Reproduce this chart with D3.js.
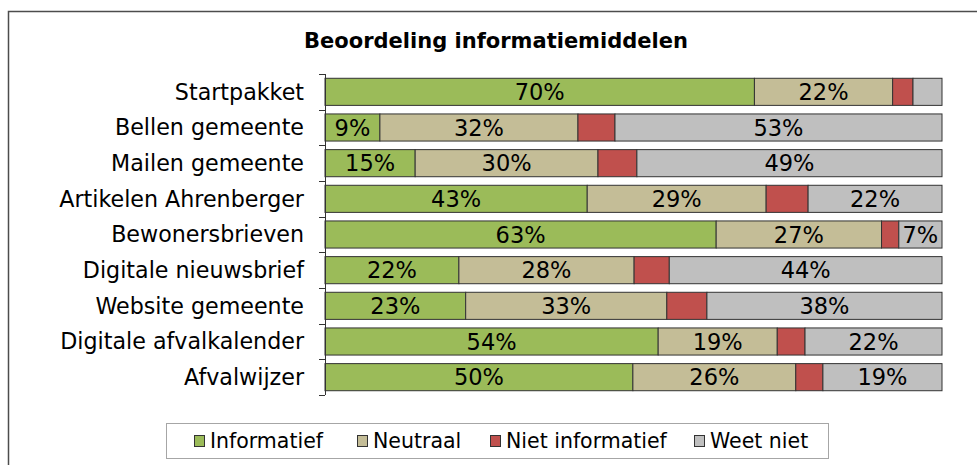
<!DOCTYPE html>
<html>
<head>
<meta charset="utf-8">
<script src="https://cdn.jsdelivr.net/npm/d3@7"></script>
<style>
    body { margin: 0; background: #fff; }
    svg { display: block; font-family: "DejaVu Sans", Verdana, sans-serif; }
</style>
</head>
<body>
<script>
const categories = ['Startpakket', 'Bellen gemeente', 'Mailen gemeente', 'Artikelen Ahrenberger',
    'Bewonersbrieven', 'Digitale nieuwsbrief', 'Website gemeente', 'Digitale afvalkalender', 'Afvalwijzer'];
const seriesNames = ['Informatief', 'Neutraal', 'Niet informatief', 'Weet niet'];
const informatief     = [69.6, 8.9, 14.6, 42.5, 63.4, 21.7, 22.8, 54.0, 49.9];
const neutraal        = [22.4, 32.1, 29.6, 29.0, 26.8, 28.4, 32.6, 19.3, 26.4];
const nietInformatief = [3.3, 6.0, 6.3, 6.8, 2.8, 5.7, 6.5, 4.5, 4.4];
const weetNiet        = [4.7, 53.0, 49.4, 21.7, 7.0, 44.2, 38.1, 22.2, 19.3];
const labelled = [true, true, false, true];
const colors = ['#9BBB59', '#C4BD97', '#C0504D', '#BFBFBF'];

function draw() {
    const width = 977, height = 465;
    const left = 325, right = 942, top = 74, bottom = 395;

    const svg = d3.select('body')
        .append('svg')
        .attr('width', width)
        .attr('height', height);

    // chart frame (runs off the right and bottom edge)
    svg.append('rect')
        .attr('x', 8.5).attr('y', 11.5)
        .attr('width', 1000).attr('height', 500)
        .attr('fill', 'none')
        .attr('stroke', '#4d4d4d')
        .attr('stroke-width', 1.5);

    svg.append('text')
        .attr('x', 496).attr('y', 48)
        .attr('text-anchor', 'middle')
        .attr('font-weight', 'bold')
        .attr('font-size', 21)
        .text('Beoordeling informatiemiddelen');

    const rows = categories.map(function(c, i) {
        return { cat: c, vals: [informatief[i], neutraal[i], nietInformatief[i], weetNiet[i]] };
    });

    const stackData = rows.map(function(r) {
        const total = d3.sum(r.vals);
        const o = { cat: r.cat };
        seriesNames.forEach(function(s, j) { o[s] = r.vals[j] / total * 100; });
        return o;
    });

    const stack = d3.stack().keys(seriesNames)(stackData);

    const xScale = d3.scaleLinear().domain([0, 100]).range([left, right]);
    const yScale = d3.scaleBand().domain(categories).range([top, bottom])
        .paddingInner(0.24).paddingOuter(0.12);

    const layers = svg.append('g')
        .selectAll('g')
        .data(stack)
        .enter()
        .append('g')
        .attr('fill', function(d, i) { return colors[i]; });

    layers.selectAll('rect')
        .data(function(d) { return d; })
        .enter()
        .append('rect')
        .attr('x', function(d) { return xScale(d[0]); })
        .attr('y', function(d) { return yScale(d.data.cat); })
        .attr('width', function(d) { return xScale(d[1]) - xScale(d[0]); })
        .attr('height', yScale.bandwidth())
        .attr('stroke', '#333')
        .attr('stroke-width', 1);

    layers.selectAll('text')
        .data(function(d, i) {
            return d.map(function(p, k) { return { p: p, s: i, v: rows[k].vals[i] }; });
        })
        .enter()
        .filter(function(d) { return labelled[d.s] && d.v >= 6.5; })
        .append('text')
        .attr('x', function(d) { return (xScale(d.p[0]) + xScale(d.p[1])) / 2; })
        .attr('y', function(d) { return yScale(d.p.data.cat) + yScale.bandwidth() / 2; })
        .attr('dy', '0.36em')
        .attr('text-anchor', 'middle')
        .attr('font-size', 22.5)
        .attr('fill', '#000')
        .text(function(d) { return Math.round(d.v) + '%'; });

    // category axis with ticks on band boundaries
    const axis = svg.append('g').attr('stroke', '#333');
    axis.append('line')
        .attr('x1', left + 0.5).attr('x2', left + 0.5)
        .attr('y1', top).attr('y2', bottom);
    const step = yScale.step();
    axis.selectAll('.tick')
        .data(d3.range(categories.length + 1))
        .enter()
        .append('line')
        .attr('x1', left - 6).attr('x2', left)
        .attr('y1', function(i) { return Math.round(top + i * step) + 0.5; })
        .attr('y2', function(i) { return Math.round(top + i * step) + 0.5; });

    svg.append('g')
        .selectAll('text')
        .data(categories)
        .enter()
        .append('text')
        .attr('x', 304)
        .attr('y', function(d) { return yScale(d) + yScale.bandwidth() / 2; })
        .attr('dy', '0.36em')
        .attr('text-anchor', 'end')
        .attr('font-size', 22.2)
        .text(function(d) { return d; });

    // legend
    const legend = svg.append('g');
    legend.append('rect')
        .attr('x', 166.5).attr('y', 423.5)
        .attr('width', 662).attr('height', 35)
        .attr('fill', '#fff')
        .attr('stroke', '#a6a6a6');
    const legendX = [194, 357, 490, 694];
    const item = legend.selectAll('.item')
        .data(seriesNames)
        .enter()
        .append('g')
        .attr('transform', function(d, i) { return 'translate(' + legendX[i] + ',441)'; });
    item.append('rect')
        .attr('x', 0.5).attr('y', -5.5)
        .attr('width', 10).attr('height', 11)
        .attr('fill', function(d, i) { return colors[i]; })
        .attr('stroke', '#333');
    item.append('text')
        .attr('x', 16)
        .attr('dy', '0.36em')
        .attr('font-size', 20.5)
        .text(function(d) { return d; });
}

draw();
</script>
</body>
</html>
